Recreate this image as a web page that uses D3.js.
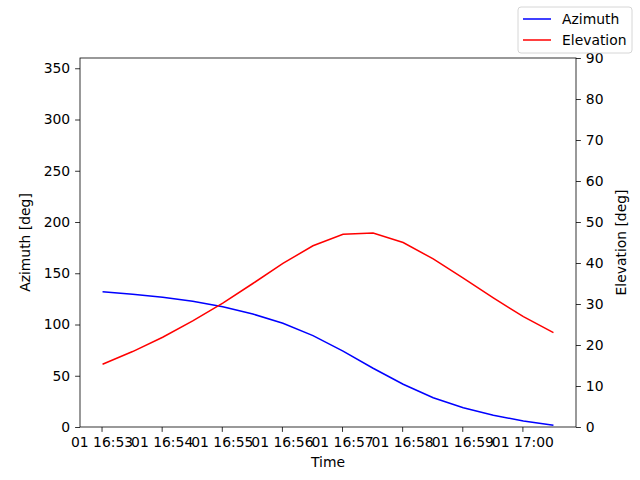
<!DOCTYPE html>
<html>
<head>
<meta charset="utf-8">
<script src="https://d3js.org/d3.v7.min.js"></script>
<style>
  body { margin: 0; background: #fff; }
  svg text { font-family: "DejaVu Sans", sans-serif; }
</style>
</head>
<body>
<div id="chart"></div>
<script>
// sample times (30 s apart), azimuth and elevation in degrees
var times = ["16:53:01", "16:53:31", "16:54:01", "16:54:31", "16:55:01", "16:55:31",
             "16:56:01", "16:56:31", "16:57:01", "16:57:31", "16:58:01", "16:58:31",
             "16:59:01", "16:59:31", "17:00:01", "17:00:31"];
var azimuth = [132, 129.5, 126.5, 122.6, 117.4, 110.2, 101.2, 89.1,
               74.1, 57.3, 41.7, 28.6, 18.8, 11.4, 5.9, 1.7];
var elevation = [15.3, 18.4, 21.9, 25.9, 30.2, 35.0, 39.9, 44.2,
                 47.0, 47.3, 45.0, 41.0, 36.3, 31.5, 26.9, 23.0];
var azTicks = [0, 50, 100, 150, 200, 250, 300, 350];
var elTicks = [0, 10, 20, 30, 40, 50, 60, 70, 80, 90];
var timeTicks = ["16:53", "16:54", "16:55", "16:56", "16:57", "16:58", "16:59", "17:00"];

var parseT = d3.utcParse("%Y-%m-%d %H:%M:%S");
var parseTick = d3.utcParse("%Y-%m-%d %H:%M");
var data = times.map(function(t, i) {
  return { t: parseT("2024-01-01 " + t), az: azimuth[i], el: elevation[i] };
});

var margin = {top: 58, right: 64, bottom: 53, left: 80},
    width = 640 - margin.left - margin.right,
    height = 480 - margin.top - margin.bottom;

var svg = d3.select("#chart")
  .append("svg")
    .attr("width", 640)
    .attr("height", 480)
  .append("g")
    .attr("transform", "translate(" + margin.left + "," + margin.top + ")");

// x scale with matplotlib-like 5% margins
var ext = d3.extent(data, function(d) { return d.t; });
var pad = (ext[1] - ext[0]) * 0.05;
var x = d3.scaleUtc()
  .domain([new Date(+ext[0] - pad), new Date(+ext[1] + pad)])
  .range([0, width]);

var yL = d3.scaleLinear().domain([0, 360]).range([height, 0]);
var yR = d3.scaleLinear().domain([0, 90]).range([height, 0]);

var fmt = d3.utcFormat("%d %H:%M");

var xAxis = svg.append("g")
  .attr("transform", "translate(0," + height + ")")
  .call(d3.axisBottom(x)
    .tickValues(timeTicks.map(function(s) { return parseTick("2024-01-01 " + s); }))
    .tickFormat(fmt)
    .tickSize(4.9)
    .tickPadding(4.9));

var leftAxis = svg.append("g")
  .call(d3.axisLeft(yL).tickValues(azTicks).tickSize(4.9).tickPadding(4.9));

var rightAxis = svg.append("g")
  .attr("transform", "translate(" + width + ",0)")
  .call(d3.axisRight(yR).tickValues(elTicks).tickSize(4.9).tickPadding(4.9));

[xAxis, leftAxis, rightAxis].forEach(function(a) {
  a.attr("font-family", null).attr("font-size", null);
  a.selectAll("text").style("font-size", "13.9px").attr("fill", "#000");
  a.selectAll("line").attr("stroke", "#000").attr("stroke-width", 0.8);
  a.select(".domain").remove();
});

// frame
svg.append("rect")
  .attr("width", width)
  .attr("height", height)
  .attr("fill", "none")
  .attr("stroke", "#000")
  .attr("stroke-width", 0.8);

// lines
svg.append("path")
  .datum(data)
  .attr("fill", "none")
  .attr("stroke", "blue")
  .attr("stroke-width", 1.5)
  .attr("d", d3.line()
    .x(function(d) { return x(d.t); })
    .y(function(d) { return yL(d.az); }));

svg.append("path")
  .datum(data)
  .attr("fill", "none")
  .attr("stroke", "red")
  .attr("stroke-width", 1.5)
  .attr("d", d3.line()
    .x(function(d) { return x(d.t); })
    .y(function(d) { return yR(d.el); }));

// axis labels
svg.append("text")
  .attr("x", width / 2)
  .attr("y", height + 40)
  .attr("text-anchor", "middle")
  .style("font-size", "13.9px")
  .text("Time");

svg.append("text")
  .attr("transform", "translate(" + (-50) + "," + (height / 2) + ") rotate(-90)")
  .attr("text-anchor", "middle")
  .style("font-size", "13.9px")
  .text("Azimuth [deg]");

svg.append("text")
  .attr("transform", "translate(" + (width + 50) + "," + (height / 2) + ") rotate(-90)")
  .attr("text-anchor", "middle")
  .style("font-size", "13.9px")
  .text("Elevation [deg]");

// legend (figure-level, top right)
var legend = d3.select("svg").append("g")
  .attr("transform", "translate(518,7)");
legend.append("rect")
  .attr("width", 114)
  .attr("height", 46)
  .attr("rx", 3)
  .attr("fill", "#fff")
  .attr("stroke", "#ccc")
  .attr("stroke-width", 0.8);
var items = [{name: "Azimuth", color: "blue"}, {name: "Elevation", color: "red"}];
items.forEach(function(it, i) {
  var gy = 12 + i * 21;
  legend.append("line")
    .attr("x1", 5).attr("x2", 33)
    .attr("y1", gy).attr("y2", gy)
    .attr("stroke", it.color)
    .attr("stroke-width", 1.5);
  legend.append("text")
    .attr("x", 44)
    .attr("y", gy + 5)
    .style("font-size", "13.9px")
    .text(it.name);
});
</script>
</body>
</html>
